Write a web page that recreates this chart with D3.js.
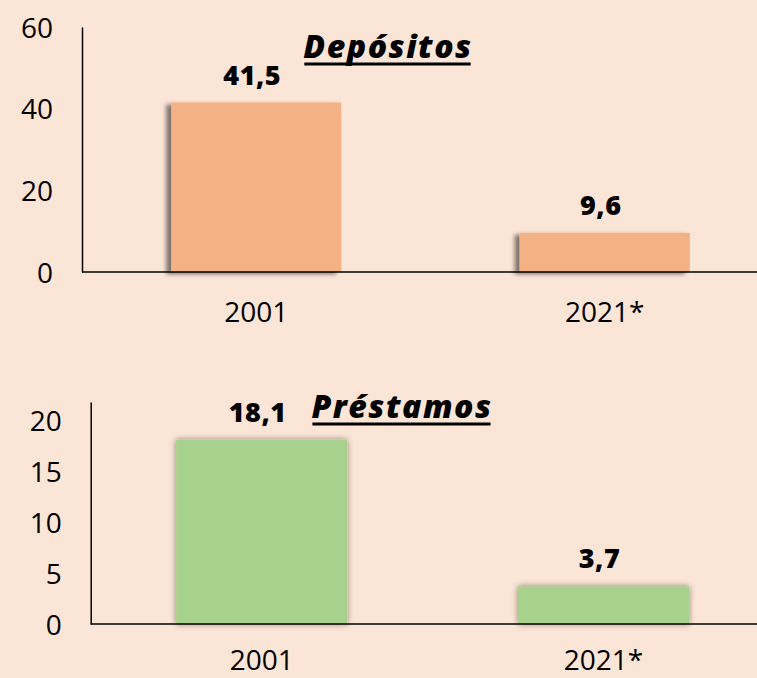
<!DOCTYPE html>
<html>
<head>
<meta charset="utf-8">
<script src="https://cdn.jsdelivr.net/npm/d3@7"></script>
<style>
  html, body { margin: 0; padding: 0; background: #FBE5D6; }
  svg { display: block; }
  text { font-family: "Open Sans", "Noto Sans", sans-serif; fill: #000; }
</style>
</head>
<body>
<svg id="chart" width="757" height="678"></svg>
<script>
// ---- data ----
const categories = ["2001", "2021*"];
const depositos = [41.5, 9.6];
const prestamos = [18.1, 3.7];
const depTicks = [0, 20, 40, 60];
const preTicks = [0, 5, 10, 15, 20];
const depTitle = "Depósitos";
const preTitle = "Préstamos";
const depMax = 60;
const preMax = 21.8;

const locale = d3.formatLocale({decimal: ",", thousands: ".", grouping: [3], currency: ["", ""]});
const fmt = locale.format(".1f");

const svg = d3.select("#chart");
const defs = svg.append("defs");
defs.append("filter").attr("id", "shOrange")
  .attr("x", "-20%").attr("y", "-20%").attr("width", "140%").attr("height", "140%")
  .append("feDropShadow").attr("dx", -5).attr("dy", 2).attr("stdDeviation", 2.2)
  .attr("flood-color", "#000").attr("flood-opacity", 0.5);
defs.append("filter").attr("id", "shGreen")
  .attr("x", "-20%").attr("y", "-20%").attr("width", "140%").attr("height", "140%")
  .append("feDropShadow").attr("dx", 0).attr("dy", 0).attr("stdDeviation", 3)
  .attr("flood-color", "#000").attr("flood-opacity", 0.45);

function panel(cfg) {
  const g = svg.append("g");
  const x = d3.scaleBand().domain(categories)
    .range([cfg.left, cfg.xEnd]).paddingInner(cfg.pad).paddingOuter(cfg.pad / 2);
  const y = d3.scaleLinear().domain([0, cfg.max]).range([cfg.bottom, cfg.top]);

  // bars
  g.selectAll("rect.bar").data(cfg.values).join("rect")
    .attr("class", "bar")
    .attr("x", (d, i) => x(categories[i]))
    .attr("width", x.bandwidth())
    .attr("y", d => y(d))
    .attr("height", d => y(0) - y(d))
    .attr("fill", cfg.color)
    .attr("filter", `url(#${cfg.filter})`);

  // y axis
  const ya = g.append("g").attr("transform", `translate(${cfg.left},0)`)
    .call(d3.axisLeft(y).tickValues(cfg.ticks).tickSize(0).tickPadding(cfg.tickPad).tickFormat(d3.format("d")));
  ya.select(".domain").attr("stroke", "#000").attr("stroke-width", 1.5);
  ya.selectAll("text").style("font-size", "28px").attr("dy", "0.36em");

  // x axis line
  g.append("line").attr("x1", cfg.left).attr("x2", 757)
    .attr("y1", y(0)).attr("y2", y(0))
    .attr("stroke", "#000").attr("stroke-width", 1.5);

  // x labels
  g.selectAll("text.xl").data(categories).join("text")
    .attr("class", "xl")
    .attr("x", d => x(d) + x.bandwidth() / 2)
    .attr("y", cfg.xLabelY)
    .attr("text-anchor", "middle")
    .style("font-size", "28px")
    .text(d => d);

  // value labels
  g.selectAll("text.vl").data(cfg.values).join("text")
    .attr("class", "vl")
    .attr("x", (d, i) => x(categories[i]) + x.bandwidth() / 2 - 4)
    .attr("y", d => y(d) - 18)
    .attr("text-anchor", "middle")
    .style("font-size", "27px").style("font-weight", "800").style("letter-spacing", "0.5px")
    .text(d => fmt(d));

  // title
  const t = g.append("text")
    .attr("x", cfg.titleX).attr("y", cfg.titleY)
    .attr("text-anchor", "middle")
    .style("font-size", "32px").style("font-weight", "800").style("font-style", "italic")
    .style("letter-spacing", "1.5px")
    .text(cfg.title);
  const bb = t.node().getBBox();
  g.append("line")
    .attr("x1", bb.x + 1).attr("x2", bb.x + bb.width - 2)
    .attr("y1", cfg.titleY + 6).attr("y2", cfg.titleY + 6)
    .attr("stroke", "#000").attr("stroke-width", 3);
}

panel({
  values: depositos, ticks: depTicks, max: depMax, color: "#F4B183", filter: "shOrange",
  left: 82, xEnd: 779, pad: 0.512, top: 27, bottom: 272, tickPad: 29,
  xLabelY: 322, title: depTitle, titleX: 388, titleY: 58
});
panel({
  values: prestamos, ticks: preTicks, max: preMax, color: "#A9D18E", filter: "shGreen",
  left: 90.7, xEnd: 774.5, pad: 0.5, top: 402, bottom: 624, tickPad: 29,
  xLabelY: 670, title: preTitle, titleX: 402, titleY: 418
});
</script>
</body>
</html>
